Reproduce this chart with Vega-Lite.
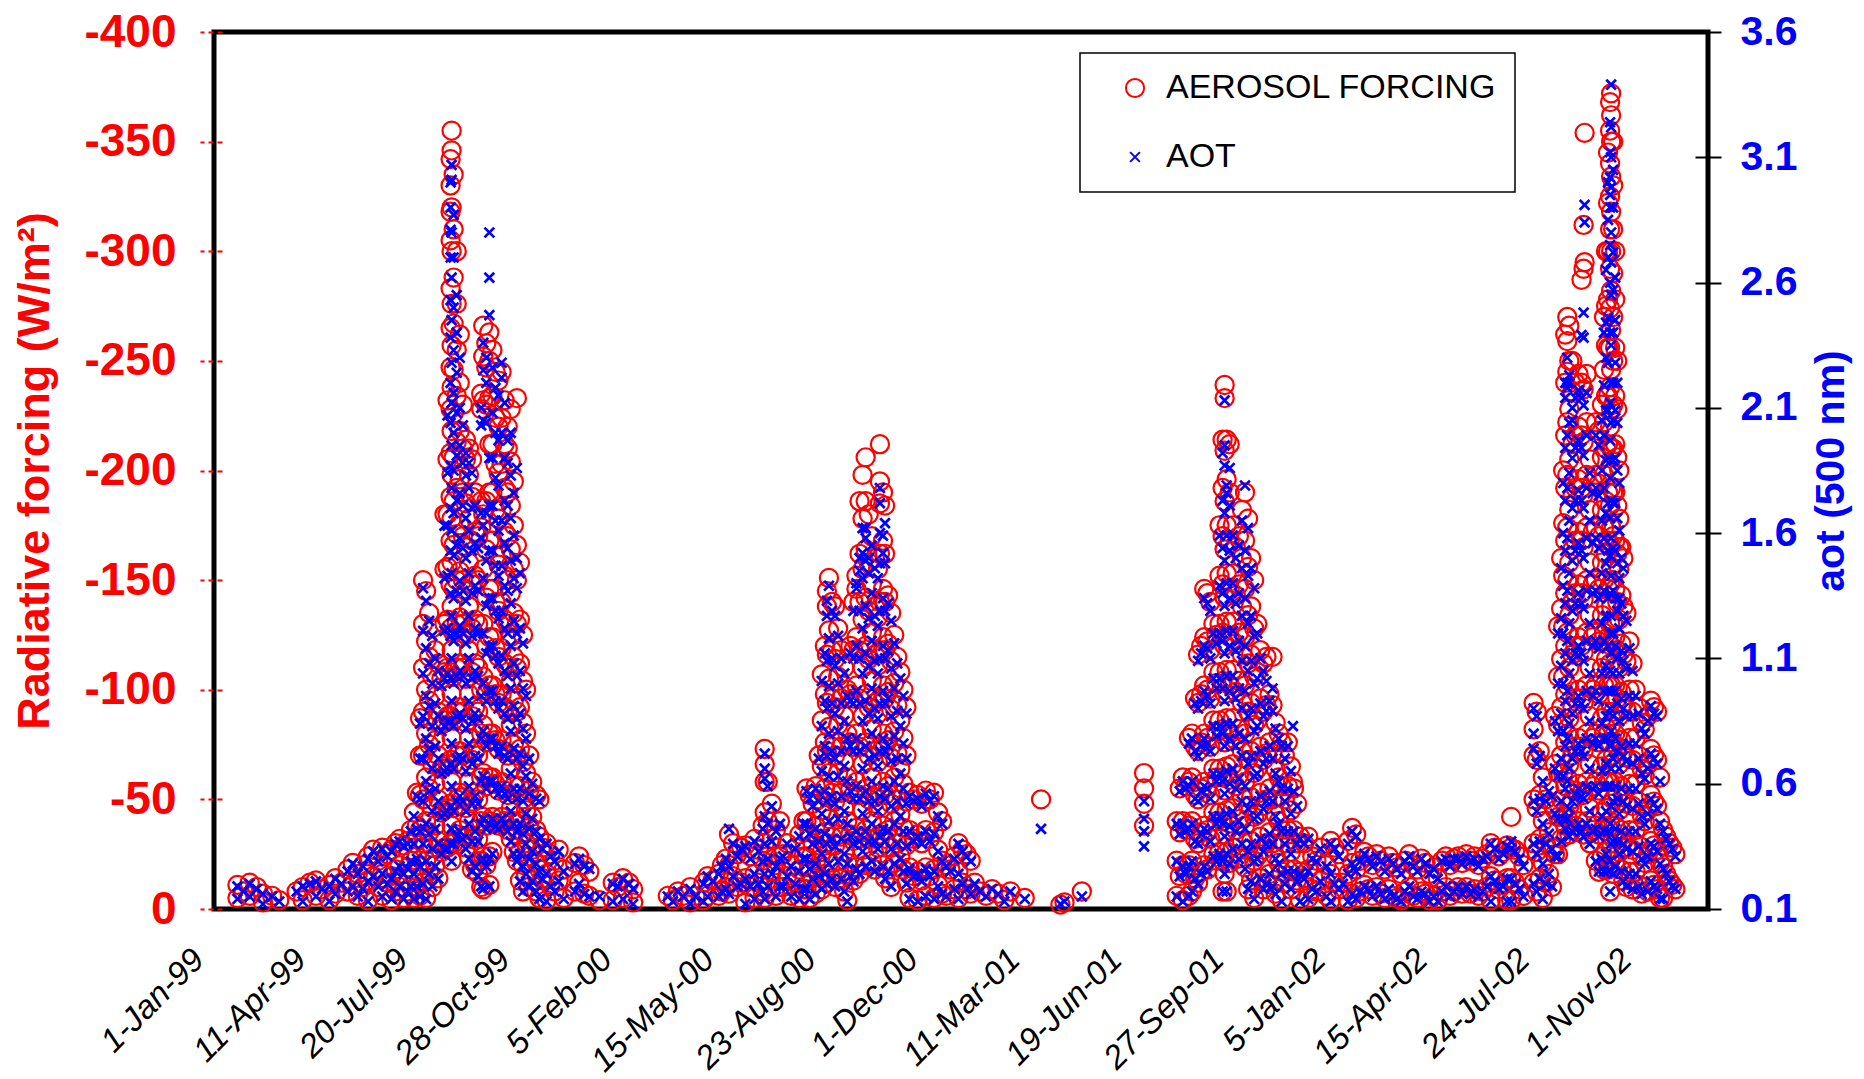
{
"$schema":"https://vega.github.io/schema/vega-lite/v6.json",
"width":1494,"height":877,
"autosize":{"type":"none"},
"padding":{"left":214,"top":32,"right":156,"bottom":170},
"background":"white",
"config":{
 "view":{"stroke":"black","strokeWidth":5},
 "legend":{"orient":"none","legendX":866,"legendY":21,"padding":18,"strokeColor":"black","strokeWidth":1.5,"fillColor":"white","labelFont":"Liberation Sans","labelFontSize":34,"labelColor":"black","labelLimit":600,"rowPadding":35,"symbolOffset":20,"labelOffset":14,"symbolStrokeWidth":2,"title":null}
},
"data":{"format":{"parse":{"d":"utc:'%Y%m%d'"}},"values":[
{"d":19990115,"f":-11,"a":0.19},{"d":19990115,"f":-5,"a":0.14},{"d":19990121,"f":-8,"a":0.17},{"d":19990127,"f":-12,"a":0.2},{"d":19990127,"f":-6,"a":0.15},{"d":19990203,"f":-10,"a":0.18},{"d":19990209,"f":-7,"a":0.16},{"d":19990209,"f":-3,"a":0.12},{"d":19990218,"f":-6,"a":0.15},{"d":19990225,"f":-4,"a":0.13},
{"d":19990314,"f":-8,"a":0.17},{"d":19990320,"f":-10,"a":0.19},{"d":19990320,"f":-4,"a":0.13},{"d":19990327,"f":-12,"a":0.2},{"d":19990402,"f":-13,"a":0.21},{"d":19990402,"f":-6,"a":0.15},{"d":19990408,"f":-9,"a":0.18},{"d":19990415,"f":-11,"a":0.19},{"d":19990415,"f":-4,"a":0.13},{"d":19990421,"f":-14,"a":0.22},{"d":19990421,"f":-7,"a":0.16},{"d":19990427,"f":-12,"a":0.2},
{"d":19990503,"f":-18,"a":0.25},{"d":19990503,"f":-8,"a":0.17},{"d":19990508,"f":-21,"a":0.28},{"d":19990508,"f":-11,"a":0.19},{"d":19990513,"f":-16,"a":0.24},{"d":19990513,"f":-6,"a":0.15},{"d":19990518,"f":-20,"a":0.27},{"d":19990518,"f":-10,"a":0.18},{"d":19990523,"f":-24,"a":0.3},{"d":19990523,"f":-13,"a":0.21},{"d":19990523,"f":-4,"a":0.13},{"d":19990528,"f":-27,"a":0.33},{"d":19990528,"f":-15,"a":0.23},
{"d":19990602,"f":-22,"a":0.29},{"d":19990602,"f":-10,"a":0.19},{"d":19990606,"f":-28,"a":0.34},{"d":19990606,"f":-16,"a":0.24},{"d":19990606,"f":-6,"a":0.15},{"d":19990611,"f":-25,"a":0.31},{"d":19990611,"f":-12,"a":0.2},{"d":19990615,"f":-27,"a":0.33},{"d":19990615,"f":-15,"a":0.22},{"d":19990615,"f":-4,"a":0.14},{"d":19990619,"f":-30,"a":0.36},{"d":19990619,"f":-18,"a":0.25},{"d":19990619,"f":-8,"a":0.17},{"d":19990623,"f":-32,"a":0.37},{"d":19990623,"f":-20,"a":0.27},{"d":19990623,"f":-10,"a":0.19},{"d":19990627,"f":-29,"a":0.35},{"d":19990627,"f":-16,"a":0.24},{"d":19990627,"f":-5,"a":0.14},
{"d":19990701,"f":-31,"a":0.36},{"d":19990701,"f":-19,"a":0.26},{"d":19990701,"f":-8,"a":0.17},{"d":19990704,"f":-36,"a":0.41},{"d":19990704,"f":-22,"a":0.29},{"d":19990704,"f":-10,"a":0.19},{"d":19990707,"f":-44,"a":0.47},{"d":19990707,"f":-30,"a":0.36},{"d":19990707,"f":-16,"a":0.24},{"d":19990707,"f":-5,"a":0.14},
{"d":19990710,"f":-53,"a":0.55},{"d":19990710,"f":-38,"a":0.42},{"d":19990710,"f":-24,"a":0.3},{"d":19990710,"f":-10,"a":0.19},
{"d":19990713,"f":-87,"a":0.84},{"d":19990713,"f":-70,"a":0.7},{"d":19990713,"f":-52,"a":0.54},{"d":19990713,"f":-36,"a":0.41},{"d":19990713,"f":-20,"a":0.27},{"d":19990713,"f":-6,"a":0.15},
{"d":19990716,"f":-150,"a":1.38},{"d":19990716,"f":-130,"a":1.21},{"d":19990716,"f":-110,"a":1.04},{"d":19990716,"f":-90,"a":0.87},{"d":19990716,"f":-70,"a":0.7},{"d":19990716,"f":-50,"a":0.53},{"d":19990716,"f":-30,"a":0.36},{"d":19990716,"f":-12,"a":0.2},
{"d":19990719,"f":-145,"a":1.33},{"d":19990719,"f":-122,"a":1.14},{"d":19990719,"f":-100,"a":0.95},{"d":19990719,"f":-80,"a":0.78},{"d":19990719,"f":-60,"a":0.61},{"d":19990719,"f":-40,"a":0.44},{"d":19990719,"f":-22,"a":0.29},{"d":19990719,"f":-5,"a":0.14},
{"d":19990722,"f":-135,"a":1.25},{"d":19990722,"f":-115,"a":1.08},{"d":19990722,"f":-95,"a":0.91},{"d":19990722,"f":-75,"a":0.74},{"d":19990722,"f":-55,"a":0.57},{"d":19990722,"f":-35,"a":0.4},{"d":19990722,"f":-17,"a":0.24},
{"d":19990725,"f":-128,"a":1.19},{"d":19990725,"f":-106,"a":1.0},{"d":19990725,"f":-86,"a":0.83},{"d":19990725,"f":-66,"a":0.66},{"d":19990725,"f":-46,"a":0.49},{"d":19990725,"f":-28,"a":0.34},{"d":19990725,"f":-10,"a":0.19},
{"d":19990728,"f":-118,"a":1.1},{"d":19990728,"f":-97,"a":0.92},{"d":19990728,"f":-77,"a":0.75},{"d":19990728,"f":-57,"a":0.58},{"d":19990728,"f":-38,"a":0.42},{"d":19990728,"f":-20,"a":0.27},
{"d":19990731,"f":-112,"a":1.05},{"d":19990731,"f":-90,"a":0.87},{"d":19990731,"f":-70,"a":0.7},{"d":19990731,"f":-50,"a":0.53},{"d":19990731,"f":-31,"a":0.36},{"d":19990731,"f":-14,"a":0.22},
{"d":19990803,"f":-105,"a":0.99},{"d":19990803,"f":-84,"a":0.81},{"d":19990803,"f":-64,"a":0.64},{"d":19990803,"f":-44,"a":0.47},{"d":19990803,"f":-26,"a":0.32},
{"d":19990806,"f":-180,"a":1.63},{"d":19990806,"f":-155,"a":1.42},{"d":19990806,"f":-130,"a":1.21},{"d":19990806,"f":-108,"a":1.02},{"d":19990806,"f":-86,"a":0.83},{"d":19990806,"f":-65,"a":0.65},{"d":19990806,"f":-45,"a":0.48},{"d":19990806,"f":-28,"a":0.34},
{"d":19990809,"f":-232,"a":2.07},{"d":19990809,"f":-205,"a":1.84},{"d":19990809,"f":-180,"a":1.63},{"d":19990809,"f":-156,"a":1.43},{"d":19990809,"f":-132,"a":1.22},{"d":19990809,"f":-110,"a":1.04},{"d":19990809,"f":-88,"a":0.85},{"d":19990809,"f":-66,"a":0.66},{"d":19990809,"f":-46,"a":0.49},{"d":19990809,"f":-28,"a":0.34},
{"d":19990812,"f":-342,"a":3.0},{"d":19990812,"f":-330,"a":2.9},{"d":19990812,"f":-318,"a":2.81},{"d":19990812,"f":-305,"a":2.7},{"d":19990812,"f":-283,"a":2.53},{"d":19990812,"f":-265,"a":2.38},{"d":19990812,"f":-247,"a":2.2},{"d":19990812,"f":-228,"a":2.04},{"d":19990812,"f":-208,"a":1.87},{"d":19990812,"f":-188,"a":1.7},{"d":19990812,"f":-168,"a":1.53},{"d":19990812,"f":-148,"a":1.36},{"d":19990812,"f":-128,"a":1.19},{"d":19990812,"f":-108,"a":1.02},{"d":19990812,"f":-88,"a":0.85},{"d":19990812,"f":-68,"a":0.68},{"d":19990812,"f":-48,"a":0.51},{"d":19990812,"f":-30,"a":0.36},
{"d":19990813,"f":-355,"a":3.07},{"d":19990813,"f":-346,"a":3.01},{"d":19990813,"f":-320,"a":2.8},{"d":19990813,"f":-300,"a":2.62},{"d":19990813,"f":-276,"a":2.45},{"d":19990813,"f":-257,"a":2.28},{"d":19990813,"f":-238,"a":2.12},{"d":19990813,"f":-218,"a":1.95},{"d":19990813,"f":-198,"a":1.78},{"d":19990813,"f":-178,"a":1.61},{"d":19990813,"f":-158,"a":1.44},{"d":19990813,"f":-138,"a":1.27},{"d":19990813,"f":-118,"a":1.1},{"d":19990813,"f":-98,"a":0.93},{"d":19990813,"f":-78,"a":0.76},{"d":19990813,"f":-58,"a":0.59},{"d":19990813,"f":-38,"a":0.42},{"d":19990813,"f":-22,"a":0.29},
{"d":19990815,"f":-335,"a":2.87},{"d":19990815,"f":-310,"a":2.7},{"d":19990815,"f":-288,"a":2.5},{"d":19990815,"f":-267,"a":2.33},{"d":19990815,"f":-246,"a":2.16},{"d":19990815,"f":-226,"a":2.0},{"d":19990815,"f":-206,"a":1.85},{"d":19990815,"f":-186,"a":1.68},{"d":19990815,"f":-166,"a":1.51},{"d":19990815,"f":-146,"a":1.34},{"d":19990815,"f":-126,"a":1.17},{"d":19990815,"f":-106,"a":1.0},{"d":19990815,"f":-86,"a":0.83},{"d":19990815,"f":-66,"a":0.66},{"d":19990815,"f":-46,"a":0.49},{"d":19990815,"f":-30,"a":0.36},
{"d":19990818,"f":-300,"a":2.55},{"d":19990818,"f":-276,"a":2.4},{"d":19990818,"f":-255,"a":2.24},{"d":19990818,"f":-234,"a":2.08},{"d":19990818,"f":-213,"a":1.91},{"d":19990818,"f":-192,"a":1.73},{"d":19990818,"f":-171,"a":1.55},{"d":19990818,"f":-150,"a":1.37},{"d":19990818,"f":-130,"a":1.2},{"d":19990818,"f":-110,"a":1.03},{"d":19990818,"f":-90,"a":0.87},{"d":19990818,"f":-70,"a":0.7},{"d":19990818,"f":-50,"a":0.53},{"d":19990818,"f":-34,"a":0.39},
{"d":19990821,"f":-262,"a":2.3},{"d":19990821,"f":-240,"a":2.1},{"d":19990821,"f":-218,"a":1.95},{"d":19990821,"f":-196,"a":1.76},{"d":19990821,"f":-175,"a":1.58},{"d":19990821,"f":-154,"a":1.41},{"d":19990821,"f":-133,"a":1.23},{"d":19990821,"f":-112,"a":1.05},{"d":19990821,"f":-92,"a":0.88},{"d":19990821,"f":-72,"a":0.71},{"d":19990821,"f":-53,"a":0.55},{"d":19990821,"f":-36,"a":0.41},
{"d":19990824,"f":-230,"a":2.03},{"d":19990824,"f":-210,"a":1.88},{"d":19990824,"f":-190,"a":1.71},{"d":19990824,"f":-170,"a":1.54},{"d":19990824,"f":-150,"a":1.37},{"d":19990824,"f":-130,"a":1.2},{"d":19990824,"f":-110,"a":1.03},{"d":19990824,"f":-90,"a":0.86},{"d":19990824,"f":-70,"a":0.7},{"d":19990824,"f":-51,"a":0.53},{"d":19990824,"f":-33,"a":0.38},
{"d":19990827,"f":-214,"a":1.92},{"d":19990827,"f":-205,"a":1.83},{"d":19990827,"f":-185,"a":1.66},{"d":19990827,"f":-165,"a":1.5},{"d":19990827,"f":-145,"a":1.33},{"d":19990827,"f":-125,"a":1.16},{"d":19990827,"f":-105,"a":1.0},{"d":19990827,"f":-85,"a":0.82},{"d":19990827,"f":-65,"a":0.65},{"d":19990827,"f":-46,"a":0.49},{"d":19990827,"f":-28,"a":0.34},
{"d":19990830,"f":-210,"a":1.88},{"d":19990830,"f":-198,"a":1.78},{"d":19990830,"f":-178,"a":1.61},{"d":19990830,"f":-158,"a":1.44},{"d":19990830,"f":-138,"a":1.27},{"d":19990830,"f":-118,"a":1.1},{"d":19990830,"f":-98,"a":0.93},{"d":19990830,"f":-78,"a":0.76},{"d":19990830,"f":-58,"a":0.59},{"d":19990830,"f":-40,"a":0.44},{"d":19990830,"f":-24,"a":0.3},
{"d":19990902,"f":-205,"a":1.84},{"d":19990902,"f":-188,"a":1.7},{"d":19990902,"f":-168,"a":1.53},{"d":19990902,"f":-148,"a":1.36},{"d":19990902,"f":-128,"a":1.19},{"d":19990902,"f":-108,"a":1.02},{"d":19990902,"f":-88,"a":0.85},{"d":19990902,"f":-68,"a":0.68},{"d":19990902,"f":-49,"a":0.52},{"d":19990902,"f":-32,"a":0.37},{"d":19990902,"f":-18,"a":0.25},
{"d":19990905,"f":-190,"a":1.71},{"d":19990905,"f":-172,"a":1.56},{"d":19990905,"f":-152,"a":1.39},{"d":19990905,"f":-132,"a":1.22},{"d":19990905,"f":-112,"a":1.05},{"d":19990905,"f":-92,"a":0.88},{"d":19990905,"f":-72,"a":0.71},{"d":19990905,"f":-53,"a":0.55},{"d":19990905,"f":-36,"a":0.41},{"d":19990905,"f":-20,"a":0.27},
{"d":19990908,"f":-170,"a":1.54},{"d":19990908,"f":-150,"a":1.37},{"d":19990908,"f":-130,"a":1.2},{"d":19990908,"f":-110,"a":1.03},{"d":19990908,"f":-90,"a":0.86},{"d":19990908,"f":-70,"a":0.7},{"d":19990908,"f":-50,"a":0.52},{"d":19990908,"f":-32,"a":0.37},{"d":19990908,"f":-16,"a":0.23},
{"d":19990911,"f":-235,"a":2.1},{"d":19990911,"f":-228,"a":2.03},{"d":19990911,"f":-186,"a":1.68},{"d":19990911,"f":-174,"a":1.58},{"d":19990911,"f":-100,"a":0.95},{"d":19990911,"f":-80,"a":0.78},{"d":19990911,"f":-60,"a":0.61},{"d":19990911,"f":-40,"a":0.44},{"d":19990911,"f":-22,"a":0.29},{"d":19990911,"f":-10,"a":0.19},
{"d":19990913,"f":-266,"a":2.36},{"d":19990913,"f":-252,"a":2.25},{"d":19990913,"f":-232,"a":2.05},{"d":19990913,"f":-180,"a":1.63},{"d":19990913,"f":-155,"a":1.42},{"d":19990913,"f":-130,"a":1.2},{"d":19990913,"f":-106,"a":1.0},{"d":19990913,"f":-84,"a":0.81},{"d":19990913,"f":-62,"a":0.63},{"d":19990913,"f":-42,"a":0.46},{"d":19990913,"f":-24,"a":0.3},{"d":19990913,"f":-9,"a":0.18},
{"d":19990916,"f":-258,"a":2.3},{"d":19990916,"f":-247,"a":2.2},{"d":19990916,"f":-230,"a":2.04},{"d":19990916,"f":-186,"a":1.68},{"d":19990916,"f":-164,"a":1.49},{"d":19990916,"f":-142,"a":1.31},{"d":19990916,"f":-120,"a":1.12},{"d":19990916,"f":-98,"a":0.93},{"d":19990916,"f":-76,"a":0.75},{"d":19990916,"f":-56,"a":0.58},{"d":19990916,"f":-38,"a":0.42},{"d":19990916,"f":-20,"a":0.27},
{"d":19990919,"f":-263,"a":2.8},{"d":19990919,"f":-250,"a":2.62},{"d":19990919,"f":-233,"a":2.47},{"d":19990919,"f":-212,"a":1.9},{"d":19990919,"f":-190,"a":1.71},{"d":19990919,"f":-168,"a":1.53},{"d":19990919,"f":-146,"a":1.34},{"d":19990919,"f":-124,"a":1.15},{"d":19990919,"f":-102,"a":0.97},{"d":19990919,"f":-80,"a":0.78},{"d":19990919,"f":-60,"a":0.61},{"d":19990919,"f":-40,"a":0.44},{"d":19990919,"f":-24,"a":0.3},{"d":19990919,"f":-11,"a":0.19},
{"d":19990922,"f":-255,"a":2.26},{"d":19990922,"f":-234,"a":2.08},{"d":19990922,"f":-212,"a":1.9},{"d":19990922,"f":-190,"a":1.71},{"d":19990922,"f":-168,"a":1.53},{"d":19990922,"f":-146,"a":1.34},{"d":19990922,"f":-124,"a":1.15},{"d":19990922,"f":-102,"a":0.97},{"d":19990922,"f":-80,"a":0.78},{"d":19990922,"f":-60,"a":0.61},{"d":19990922,"f":-42,"a":0.46},{"d":19990922,"f":-26,"a":0.32},
{"d":19990925,"f":-245,"a":2.18},{"d":19990925,"f":-224,"a":2.0},{"d":19990925,"f":-203,"a":1.82},{"d":19990925,"f":-182,"a":1.65},{"d":19990925,"f":-161,"a":1.47},{"d":19990925,"f":-140,"a":1.29},{"d":19990925,"f":-119,"a":1.11},{"d":19990925,"f":-98,"a":0.93},{"d":19990925,"f":-77,"a":0.75},{"d":19990925,"f":-57,"a":0.58},{"d":19990925,"f":-39,"a":0.43},
{"d":19990928,"f":-241,"a":2.15},{"d":19990928,"f":-220,"a":1.97},{"d":19990928,"f":-199,"a":1.79},{"d":19990928,"f":-178,"a":1.61},{"d":19990928,"f":-157,"a":1.43},{"d":19990928,"f":-136,"a":1.26},{"d":19990928,"f":-115,"a":1.08},{"d":19990928,"f":-94,"a":0.9},{"d":19990928,"f":-73,"a":0.72},{"d":19990928,"f":-54,"a":0.56},{"d":19990928,"f":-38,"a":0.42},
{"d":19991001,"f":-245,"a":2.28},{"d":19991001,"f":-224,"a":2.22},{"d":19991001,"f":-203,"a":2.0},{"d":19991001,"f":-182,"a":1.65},{"d":19991001,"f":-161,"a":1.47},{"d":19991001,"f":-140,"a":1.29},{"d":19991001,"f":-119,"a":1.11},{"d":19991001,"f":-98,"a":0.93},{"d":19991001,"f":-77,"a":0.75},{"d":19991001,"f":-58,"a":0.59},{"d":19991001,"f":-42,"a":0.46},
{"d":19991004,"f":-232,"a":2.12},{"d":19991004,"f":-212,"a":1.9},{"d":19991004,"f":-192,"a":1.73},{"d":19991004,"f":-172,"a":1.56},{"d":19991004,"f":-152,"a":1.39},{"d":19991004,"f":-132,"a":1.22},{"d":19991004,"f":-112,"a":1.05},{"d":19991004,"f":-92,"a":0.88},{"d":19991004,"f":-72,"a":0.71},{"d":19991004,"f":-54,"a":0.56},{"d":19991004,"f":-40,"a":0.44},
{"d":19991007,"f":-220,"a":1.97},{"d":19991007,"f":-210,"a":1.88},{"d":19991007,"f":-190,"a":1.71},{"d":19991007,"f":-170,"a":1.54},{"d":19991007,"f":-150,"a":1.37},{"d":19991007,"f":-130,"a":1.2},{"d":19991007,"f":-110,"a":1.03},{"d":19991007,"f":-90,"a":0.86},{"d":19991007,"f":-70,"a":0.7},{"d":19991007,"f":-52,"a":0.54},{"d":19991007,"f":-36,"a":0.41},
{"d":19991010,"f":-228,"a":2.0},{"d":19991010,"f":-204,"a":1.83},{"d":19991010,"f":-184,"a":1.66},{"d":19991010,"f":-164,"a":1.49},{"d":19991010,"f":-144,"a":1.32},{"d":19991010,"f":-124,"a":1.15},{"d":19991010,"f":-104,"a":0.98},{"d":19991010,"f":-84,"a":0.81},{"d":19991010,"f":-64,"a":0.64},{"d":19991010,"f":-46,"a":0.49},{"d":19991010,"f":-32,"a":0.37},
{"d":19991013,"f":-195,"a":1.76},{"d":19991013,"f":-175,"a":1.59},{"d":19991013,"f":-155,"a":1.42},{"d":19991013,"f":-135,"a":1.25},{"d":19991013,"f":-115,"a":1.08},{"d":19991013,"f":-95,"a":0.91},{"d":19991013,"f":-75,"a":0.74},{"d":19991013,"f":-56,"a":0.58},{"d":19991013,"f":-40,"a":0.44},{"d":19991013,"f":-26,"a":0.32},
{"d":19991016,"f":-233,"a":1.86},{"d":19991016,"f":-166,"a":1.5},{"d":19991016,"f":-150,"a":1.38},{"d":19991016,"f":-130,"a":1.2},{"d":19991016,"f":-110,"a":1.03},{"d":19991016,"f":-90,"a":0.86},{"d":19991016,"f":-70,"a":0.7},{"d":19991016,"f":-52,"a":0.54},{"d":19991016,"f":-36,"a":0.41},{"d":19991016,"f":-22,"a":0.29},
{"d":19991019,"f":-158,"a":1.44},{"d":19991019,"f":-132,"a":1.22},{"d":19991019,"f":-112,"a":1.05},{"d":19991019,"f":-92,"a":0.88},{"d":19991019,"f":-73,"a":0.72},{"d":19991019,"f":-56,"a":0.58},{"d":19991019,"f":-40,"a":0.44},{"d":19991019,"f":-26,"a":0.32},{"d":19991019,"f":-13,"a":0.21},
{"d":19991022,"f":-125,"a":1.16},{"d":19991022,"f":-104,"a":0.98},{"d":19991022,"f":-85,"a":0.82},{"d":19991022,"f":-67,"a":0.67},{"d":19991022,"f":-50,"a":0.53},{"d":19991022,"f":-35,"a":0.4},{"d":19991022,"f":-20,"a":0.27},{"d":19991022,"f":-8,"a":0.17},
{"d":19991025,"f":-100,"a":0.95},{"d":19991025,"f":-80,"a":0.78},{"d":19991025,"f":-62,"a":0.63},{"d":19991025,"f":-45,"a":0.48},{"d":19991025,"f":-30,"a":0.36},{"d":19991025,"f":-16,"a":0.24},
{"d":19991028,"f":-70,"a":0.7},{"d":19991028,"f":-54,"a":0.56},{"d":19991028,"f":-38,"a":0.42},{"d":19991028,"f":-24,"a":0.3},{"d":19991028,"f":-10,"a":0.19},
{"d":19991031,"f":-58,"a":0.6},{"d":19991031,"f":-42,"a":0.46},{"d":19991031,"f":-27,"a":0.33},{"d":19991031,"f":-13,"a":0.21},
{"d":19991104,"f":-52,"a":0.54},{"d":19991104,"f":-36,"a":0.41},{"d":19991104,"f":-21,"a":0.28},{"d":19991104,"f":-8,"a":0.17},
{"d":19991107,"f":-50,"a":0.53},{"d":19991107,"f":-33,"a":0.38},{"d":19991107,"f":-18,"a":0.25},{"d":19991107,"f":-5,"a":0.14},
{"d":19991110,"f":-28,"a":0.34},{"d":19991110,"f":-14,"a":0.22},{"d":19991114,"f":-30,"a":0.36},{"d":19991114,"f":-16,"a":0.24},{"d":19991114,"f":-4,"a":0.13},{"d":19991118,"f":-25,"a":0.31},{"d":19991118,"f":-11,"a":0.19},{"d":19991122,"f":-22,"a":0.29},{"d":19991122,"f":-8,"a":0.17},{"d":19991126,"f":-27,"a":0.33},{"d":19991126,"f":-13,"a":0.21},
{"d":19991201,"f":-18,"a":0.25},{"d":19991201,"f":-5,"a":0.14},{"d":19991212,"f":-21,"a":0.28},{"d":19991212,"f":-8,"a":0.17},{"d":19991216,"f":-24,"a":0.3},{"d":19991216,"f":-12,"a":0.2},{"d":19991221,"f":-20,"a":0.27},{"d":19991221,"f":-7,"a":0.16},{"d":19991226,"f":-17,"a":0.26},{"d":19991226,"f":-6,"a":0.15},
{"d":20000105,"f":-4,"a":0.15},{"d":20000118,"f":-12,"a":0.2},{"d":20000118,"f":-4,"a":0.13},{"d":20000123,"f":-10,"a":0.19},{"d":20000128,"f":-14,"a":0.22},{"d":20000128,"f":-5,"a":0.14},{"d":20000203,"f":-12,"a":0.2},{"d":20000207,"f":-9,"a":0.18},{"d":20000207,"f":-3,"a":0.12},
{"d":20000312,"f":-6,"a":0.15},{"d":20000317,"f":-4,"a":0.13},{"d":20000322,"f":-8,"a":0.17},{"d":20000327,"f":-6,"a":0.15},{"d":20000403,"f":-10,"a":0.18},{"d":20000403,"f":-3,"a":0.12},{"d":20000408,"f":-6,"a":0.15},{"d":20000416,"f":-12,"a":0.2},{"d":20000416,"f":-4,"a":0.13},{"d":20000420,"f":-15,"a":0.23},{"d":20000420,"f":-6,"a":0.15},{"d":20000425,"f":-13,"a":0.21},
{"d":20000501,"f":-16,"a":0.24},{"d":20000501,"f":-6,"a":0.15},{"d":20000504,"f":-20,"a":0.27},{"d":20000504,"f":-8,"a":0.17},{"d":20000508,"f":-23,"a":0.3},{"d":20000508,"f":-10,"a":0.18},{"d":20000511,"f":-34,"a":0.42},{"d":20000511,"f":-20,"a":0.27},{"d":20000511,"f":-7,"a":0.16},{"d":20000515,"f":-30,"a":0.36},{"d":20000515,"f":-15,"a":0.23},{"d":20000519,"f":-25,"a":0.31},{"d":20000519,"f":-10,"a":0.19},{"d":20000523,"f":-28,"a":0.34},{"d":20000523,"f":-12,"a":0.2},{"d":20000527,"f":-29,"a":0.35},{"d":20000527,"f":-14,"a":0.22},{"d":20000527,"f":-3,"a":0.12},
{"d":20000601,"f":-24,"a":0.3},{"d":20000601,"f":-10,"a":0.19},{"d":20000605,"f":-32,"a":0.37},{"d":20000605,"f":-16,"a":0.24},{"d":20000605,"f":-5,"a":0.14},{"d":20000609,"f":-27,"a":0.33},{"d":20000609,"f":-12,"a":0.2},{"d":20000613,"f":-38,"a":0.42},{"d":20000613,"f":-22,"a":0.29},{"d":20000613,"f":-8,"a":0.17},
{"d":20000615,"f":-73,"a":0.72},{"d":20000615,"f":-66,"a":0.66},{"d":20000615,"f":-58,"a":0.62},{"d":20000615,"f":-44,"a":0.47},{"d":20000615,"f":-30,"a":0.36},{"d":20000615,"f":-16,"a":0.24},{"d":20000615,"f":-5,"a":0.14},
{"d":20000618,"f":-58,"a":0.59},{"d":20000618,"f":-40,"a":0.44},{"d":20000618,"f":-24,"a":0.3},{"d":20000618,"f":-10,"a":0.19},{"d":20000622,"f":-48,"a":0.51},{"d":20000622,"f":-32,"a":0.37},{"d":20000622,"f":-17,"a":0.24},{"d":20000626,"f":-36,"a":0.41},{"d":20000626,"f":-20,"a":0.27},{"d":20000626,"f":-6,"a":0.15},{"d":20000630,"f":-40,"a":0.44},{"d":20000630,"f":-24,"a":0.3},{"d":20000630,"f":-10,"a":0.19},
{"d":20000703,"f":-25,"a":0.31},{"d":20000703,"f":-10,"a":0.19},{"d":20000707,"f":-30,"a":0.36},{"d":20000707,"f":-15,"a":0.23},{"d":20000711,"f":-20,"a":0.27},{"d":20000711,"f":-6,"a":0.15},{"d":20000715,"f":-28,"a":0.34},{"d":20000715,"f":-12,"a":0.2},{"d":20000719,"f":-34,"a":0.39},{"d":20000719,"f":-18,"a":0.25},{"d":20000719,"f":-5,"a":0.14},{"d":20000723,"f":-40,"a":0.44},{"d":20000723,"f":-24,"a":0.3},{"d":20000723,"f":-9,"a":0.18},
{"d":20000726,"f":-55,"a":0.57},{"d":20000726,"f":-40,"a":0.44},{"d":20000726,"f":-24,"a":0.3},{"d":20000726,"f":-9,"a":0.18},{"d":20000729,"f":-52,"a":0.54},{"d":20000729,"f":-35,"a":0.4},{"d":20000729,"f":-19,"a":0.26},{"d":20000729,"f":-5,"a":0.14},
{"d":20000801,"f":-48,"a":0.51},{"d":20000801,"f":-30,"a":0.36},{"d":20000801,"f":-14,"a":0.22},{"d":20000804,"f":-56,"a":0.58},{"d":20000804,"f":-38,"a":0.42},{"d":20000804,"f":-21,"a":0.28},{"d":20000804,"f":-7,"a":0.16},{"d":20000807,"f":-70,"a":0.7},{"d":20000807,"f":-50,"a":0.53},{"d":20000807,"f":-32,"a":0.37},{"d":20000807,"f":-15,"a":0.23},
{"d":20000810,"f":-107,"a":1.01},{"d":20000810,"f":-86,"a":0.83},{"d":20000810,"f":-65,"a":0.65},{"d":20000810,"f":-45,"a":0.48},{"d":20000810,"f":-26,"a":0.32},{"d":20000810,"f":-9,"a":0.18},
{"d":20000813,"f":-120,"a":1.12},{"d":20000813,"f":-98,"a":0.93},{"d":20000813,"f":-76,"a":0.75},{"d":20000813,"f":-55,"a":0.57},{"d":20000813,"f":-35,"a":0.4},{"d":20000813,"f":-16,"a":0.24},
{"d":20000815,"f":-145,"a":1.33},{"d":20000815,"f":-138,"a":1.27},{"d":20000815,"f":-116,"a":1.09},{"d":20000815,"f":-94,"a":0.9},{"d":20000815,"f":-72,"a":0.71},{"d":20000815,"f":-51,"a":0.53},{"d":20000815,"f":-30,"a":0.36},{"d":20000815,"f":-12,"a":0.2},
{"d":20000817,"f":-151,"a":1.39},{"d":20000817,"f":-127,"a":1.18},{"d":20000817,"f":-105,"a":0.99},{"d":20000817,"f":-83,"a":0.8},{"d":20000817,"f":-62,"a":0.63},{"d":20000817,"f":-41,"a":0.45},{"d":20000817,"f":-21,"a":0.28},
{"d":20000820,"f":-140,"a":1.29},{"d":20000820,"f":-118,"a":1.1},{"d":20000820,"f":-96,"a":0.92},{"d":20000820,"f":-74,"a":0.73},{"d":20000820,"f":-53,"a":0.55},{"d":20000820,"f":-33,"a":0.38},{"d":20000820,"f":-14,"a":0.22},
{"d":20000823,"f":-138,"a":1.27},{"d":20000823,"f":-114,"a":1.07},{"d":20000823,"f":-92,"a":0.88},{"d":20000823,"f":-70,"a":0.7},{"d":20000823,"f":-49,"a":0.52},{"d":20000823,"f":-29,"a":0.35},{"d":20000823,"f":-10,"a":0.19},
{"d":20000826,"f":-128,"a":1.19},{"d":20000826,"f":-106,"a":1.0},{"d":20000826,"f":-84,"a":0.81},{"d":20000826,"f":-62,"a":0.63},{"d":20000826,"f":-42,"a":0.46},{"d":20000826,"f":-22,"a":0.29},
{"d":20000829,"f":-118,"a":1.1},{"d":20000829,"f":-96,"a":0.92},{"d":20000829,"f":-74,"a":0.73},{"d":20000829,"f":-53,"a":0.55},{"d":20000829,"f":-33,"a":0.38},{"d":20000829,"f":-14,"a":0.22},
{"d":20000901,"f":-110,"a":1.04},{"d":20000901,"f":-88,"a":0.85},{"d":20000901,"f":-67,"a":0.67},{"d":20000901,"f":-46,"a":0.49},{"d":20000901,"f":-26,"a":0.32},{"d":20000901,"f":-8,"a":0.17},
{"d":20000904,"f":-100,"a":0.95},{"d":20000904,"f":-80,"a":0.78},{"d":20000904,"f":-60,"a":0.61},{"d":20000904,"f":-40,"a":0.44},{"d":20000904,"f":-21,"a":0.28},{"d":20000904,"f":-4,"a":0.13},
{"d":20000907,"f":-120,"a":1.12},{"d":20000907,"f":-98,"a":0.93},{"d":20000907,"f":-76,"a":0.75},{"d":20000907,"f":-55,"a":0.57},{"d":20000907,"f":-34,"a":0.39},{"d":20000907,"f":-15,"a":0.23},
{"d":20000910,"f":-140,"a":1.29},{"d":20000910,"f":-118,"a":1.1},{"d":20000910,"f":-96,"a":0.92},{"d":20000910,"f":-74,"a":0.73},{"d":20000910,"f":-52,"a":0.54},{"d":20000910,"f":-31,"a":0.36},{"d":20000910,"f":-13,"a":0.21},
{"d":20000913,"f":-152,"a":1.4},{"d":20000913,"f":-146,"a":1.38},{"d":20000913,"f":-124,"a":1.15},{"d":20000913,"f":-102,"a":0.97},{"d":20000913,"f":-80,"a":0.78},{"d":20000913,"f":-58,"a":0.59},{"d":20000913,"f":-37,"a":0.41},{"d":20000913,"f":-19,"a":0.26},
{"d":20000916,"f":-186,"a":1.5},{"d":20000916,"f":-162,"a":1.45},{"d":20000916,"f":-140,"a":1.29},{"d":20000916,"f":-118,"a":1.1},{"d":20000916,"f":-96,"a":0.92},{"d":20000916,"f":-74,"a":0.73},{"d":20000916,"f":-52,"a":0.54},{"d":20000916,"f":-32,"a":0.37},{"d":20000916,"f":-16,"a":0.24},
{"d":20000919,"f":-198,"a":1.62},{"d":20000919,"f":-178,"a":1.52},{"d":20000919,"f":-155,"a":1.42},{"d":20000919,"f":-132,"a":1.22},{"d":20000919,"f":-110,"a":1.04},{"d":20000919,"f":-88,"a":0.85},{"d":20000919,"f":-66,"a":0.66},{"d":20000919,"f":-45,"a":0.48},{"d":20000919,"f":-27,"a":0.33},
{"d":20000922,"f":-206,"a":1.62},{"d":20000922,"f":-186,"a":1.58},{"d":20000922,"f":-164,"a":1.49},{"d":20000922,"f":-142,"a":1.31},{"d":20000922,"f":-120,"a":1.12},{"d":20000922,"f":-98,"a":0.93},{"d":20000922,"f":-76,"a":0.75},{"d":20000922,"f":-55,"a":0.57},{"d":20000922,"f":-36,"a":0.41},{"d":20000922,"f":-20,"a":0.27},
{"d":20000925,"f":-180,"a":1.5},{"d":20000925,"f":-158,"a":1.44},{"d":20000925,"f":-136,"a":1.26},{"d":20000925,"f":-114,"a":1.07},{"d":20000925,"f":-92,"a":0.88},{"d":20000925,"f":-70,"a":0.7},{"d":20000925,"f":-50,"a":0.53},{"d":20000925,"f":-32,"a":0.37},
{"d":20000928,"f":-170,"a":1.55},{"d":20000928,"f":-148,"a":1.36},{"d":20000928,"f":-126,"a":1.17},{"d":20000928,"f":-104,"a":0.98},{"d":20000928,"f":-82,"a":0.8},{"d":20000928,"f":-60,"a":0.61},{"d":20000928,"f":-40,"a":0.44},{"d":20000928,"f":-22,"a":0.29},
{"d":20001001,"f":-160,"a":1.46},{"d":20001001,"f":-138,"a":1.27},{"d":20001001,"f":-116,"a":1.09},{"d":20001001,"f":-94,"a":0.9},{"d":20001001,"f":-72,"a":0.71},{"d":20001001,"f":-51,"a":0.53},{"d":20001001,"f":-32,"a":0.37},{"d":20001001,"f":-18,"a":0.25},
{"d":20001004,"f":-155,"a":1.42},{"d":20001004,"f":-133,"a":1.23},{"d":20001004,"f":-111,"a":1.04},{"d":20001004,"f":-89,"a":0.86},{"d":20001004,"f":-67,"a":0.67},{"d":20001004,"f":-46,"a":0.49},{"d":20001004,"f":-28,"a":0.34},
{"d":20001006,"f":-212,"a":1.78},{"d":20001006,"f":-195,"a":1.72},{"d":20001006,"f":-185,"a":1.6},{"d":20001006,"f":-162,"a":1.48},{"d":20001006,"f":-140,"a":1.29},{"d":20001006,"f":-118,"a":1.1},{"d":20001006,"f":-96,"a":0.92},{"d":20001006,"f":-74,"a":0.73},{"d":20001006,"f":-53,"a":0.55},{"d":20001006,"f":-34,"a":0.39},
{"d":20001009,"f":-190,"a":1.59},{"d":20001009,"f":-168,"a":1.52},{"d":20001009,"f":-146,"a":1.34},{"d":20001009,"f":-124,"a":1.15},{"d":20001009,"f":-102,"a":0.97},{"d":20001009,"f":-80,"a":0.78},{"d":20001009,"f":-58,"a":0.59},{"d":20001009,"f":-38,"a":0.42},{"d":20001009,"f":-20,"a":0.27},
{"d":20001011,"f":-184,"a":1.64},{"d":20001011,"f":-162,"a":1.48},{"d":20001011,"f":-140,"a":1.29},{"d":20001011,"f":-118,"a":1.1},{"d":20001011,"f":-96,"a":0.92},{"d":20001011,"f":-74,"a":0.73},{"d":20001011,"f":-52,"a":0.54},{"d":20001011,"f":-32,"a":0.37},{"d":20001011,"f":-14,"a":0.22},
{"d":20001014,"f":-143,"a":1.32},{"d":20001014,"f":-121,"a":1.13},{"d":20001014,"f":-99,"a":0.94},{"d":20001014,"f":-77,"a":0.75},{"d":20001014,"f":-56,"a":0.58},{"d":20001014,"f":-36,"a":0.41},{"d":20001014,"f":-18,"a":0.25},
{"d":20001017,"f":-135,"a":1.25},{"d":20001017,"f":-113,"a":1.06},{"d":20001017,"f":-91,"a":0.87},{"d":20001017,"f":-69,"a":0.69},{"d":20001017,"f":-48,"a":0.51},{"d":20001017,"f":-28,"a":0.34},{"d":20001017,"f":-10,"a":0.19},
{"d":20001020,"f":-125,"a":1.16},{"d":20001020,"f":-103,"a":0.98},{"d":20001020,"f":-81,"a":0.79},{"d":20001020,"f":-60,"a":0.61},{"d":20001020,"f":-40,"a":0.44},{"d":20001020,"f":-21,"a":0.28},
{"d":20001023,"f":-115,"a":1.08},{"d":20001023,"f":-93,"a":0.89},{"d":20001023,"f":-71,"a":0.7},{"d":20001023,"f":-50,"a":0.53},{"d":20001023,"f":-30,"a":0.36},
{"d":20001026,"f":-108,"a":1.02},{"d":20001026,"f":-86,"a":0.83},{"d":20001026,"f":-64,"a":0.64},{"d":20001026,"f":-43,"a":0.47},{"d":20001026,"f":-24,"a":0.3},
{"d":20001029,"f":-100,"a":0.95},{"d":20001029,"f":-78,"a":0.76},{"d":20001029,"f":-57,"a":0.58},{"d":20001029,"f":-37,"a":0.41},{"d":20001029,"f":-18,"a":0.25},
{"d":20001101,"f":-92,"a":0.88},{"d":20001101,"f":-70,"a":0.7},{"d":20001101,"f":-49,"a":0.52},{"d":20001101,"f":-29,"a":0.35},{"d":20001101,"f":-12,"a":0.2},
{"d":20001104,"f":-53,"a":0.55},{"d":20001104,"f":-36,"a":0.41},{"d":20001104,"f":-19,"a":0.26},{"d":20001104,"f":-5,"a":0.14},{"d":20001108,"f":-50,"a":0.53},{"d":20001108,"f":-32,"a":0.37},{"d":20001108,"f":-15,"a":0.23},{"d":20001112,"f":-52,"a":0.54},{"d":20001112,"f":-34,"a":0.39},{"d":20001112,"f":-17,"a":0.24},{"d":20001112,"f":-4,"a":0.13},{"d":20001116,"f":-48,"a":0.51},{"d":20001116,"f":-30,"a":0.36},{"d":20001116,"f":-13,"a":0.21},
{"d":20001120,"f":-54,"a":0.56},{"d":20001120,"f":-36,"a":0.41},{"d":20001120,"f":-19,"a":0.26},{"d":20001120,"f":-6,"a":0.15},{"d":20001124,"f":-50,"a":0.53},{"d":20001124,"f":-32,"a":0.37},{"d":20001124,"f":-15,"a":0.23},{"d":20001128,"f":-53,"a":0.55},{"d":20001128,"f":-35,"a":0.4},{"d":20001128,"f":-18,"a":0.25},{"d":20001128,"f":-5,"a":0.14},
{"d":20001202,"f":-44,"a":0.47},{"d":20001202,"f":-27,"a":0.33},{"d":20001202,"f":-11,"a":0.19},{"d":20001206,"f":-40,"a":0.44},{"d":20001206,"f":-22,"a":0.29},{"d":20001206,"f":-7,"a":0.16},{"d":20001210,"f":-20,"a":0.27},{"d":20001210,"f":-6,"a":0.15},{"d":20001214,"f":-18,"a":0.25},{"d":20001218,"f":-24,"a":0.3},{"d":20001218,"f":-9,"a":0.18},{"d":20001222,"f":-30,"a":0.36},{"d":20001222,"f":-17,"a":0.24},{"d":20001222,"f":-5,"a":0.14},{"d":20001226,"f":-27,"a":0.33},{"d":20001226,"f":-12,"a":0.2},{"d":20001230,"f":-25,"a":0.31},{"d":20001230,"f":-9,"a":0.18},
{"d":20010103,"f":-22,"a":0.29},{"d":20010103,"f":-7,"a":0.16},{"d":20010107,"f":-12,"a":0.2},{"d":20010112,"f":-8,"a":0.17},{"d":20010118,"f":-6,"a":0.15},{"d":20010124,"f":-9,"a":0.18},{"d":20010130,"f":-7,"a":0.16},{"d":20010205,"f":-4,"a":0.13},{"d":20010211,"f":-8,"a":0.17},{"d":20010225,"f":-5,"a":0.14},
{"d":20010313,"f":-50,"a":0.42},{"d":20010401,"f":-2,"a":0.12},{"d":20010405,"f":-3,"a":0.13},{"d":20010422,"f":-8,"a":0.15},
{"d":20010622,"f":-62,"a":0.53},{"d":20010622,"f":-55,"a":0.46},{"d":20010622,"f":-48,"a":0.41},{"d":20010622,"f":-38,"a":0.35},
{"d":20010724,"f":-40,"a":0.44},{"d":20010724,"f":-22,"a":0.29},{"d":20010724,"f":-6,"a":0.15},{"d":20010727,"f":-55,"a":0.57},{"d":20010727,"f":-35,"a":0.4},{"d":20010727,"f":-15,"a":0.23},{"d":20010730,"f":-60,"a":0.61},{"d":20010730,"f":-40,"a":0.44},{"d":20010730,"f":-20,"a":0.27},{"d":20010730,"f":-4,"a":0.13},
{"d":20010802,"f":-56,"a":0.58},{"d":20010802,"f":-36,"a":0.41},{"d":20010802,"f":-16,"a":0.24},{"d":20010805,"f":-78,"a":0.76},{"d":20010805,"f":-58,"a":0.59},{"d":20010805,"f":-38,"a":0.42},{"d":20010805,"f":-20,"a":0.27},{"d":20010805,"f":-6,"a":0.15},
{"d":20010808,"f":-80,"a":0.78},{"d":20010808,"f":-60,"a":0.61},{"d":20010808,"f":-40,"a":0.44},{"d":20010808,"f":-22,"a":0.29},{"d":20010808,"f":-8,"a":0.17},
{"d":20010811,"f":-96,"a":0.92},{"d":20010811,"f":-74,"a":0.73},{"d":20010811,"f":-52,"a":0.54},{"d":20010811,"f":-32,"a":0.37},{"d":20010811,"f":-14,"a":0.22},
{"d":20010814,"f":-116,"a":1.09},{"d":20010814,"f":-94,"a":0.9},{"d":20010814,"f":-72,"a":0.71},{"d":20010814,"f":-50,"a":0.53},{"d":20010814,"f":-30,"a":0.36},{"d":20010814,"f":-12,"a":0.2},
{"d":20010817,"f":-120,"a":1.12},{"d":20010817,"f":-98,"a":0.93},{"d":20010817,"f":-76,"a":0.75},{"d":20010817,"f":-55,"a":0.57},{"d":20010817,"f":-35,"a":0.4},{"d":20010817,"f":-17,"a":0.24},
{"d":20010820,"f":-146,"a":1.34},{"d":20010820,"f":-124,"a":1.15},{"d":20010820,"f":-102,"a":0.97},{"d":20010820,"f":-80,"a":0.78},{"d":20010820,"f":-58,"a":0.59},{"d":20010820,"f":-38,"a":0.42},{"d":20010820,"f":-20,"a":0.27},
{"d":20010823,"f":-144,"a":1.32},{"d":20010823,"f":-122,"a":1.14},{"d":20010823,"f":-100,"a":0.95},{"d":20010823,"f":-78,"a":0.76},{"d":20010823,"f":-56,"a":0.58},{"d":20010823,"f":-36,"a":0.41},{"d":20010823,"f":-18,"a":0.25},
{"d":20010826,"f":-140,"a":1.29},{"d":20010826,"f":-118,"a":1.1},{"d":20010826,"f":-96,"a":0.92},{"d":20010826,"f":-74,"a":0.73},{"d":20010826,"f":-52,"a":0.54},{"d":20010826,"f":-32,"a":0.37},
{"d":20010829,"f":-130,"a":1.2},{"d":20010829,"f":-108,"a":1.02},{"d":20010829,"f":-86,"a":0.83},{"d":20010829,"f":-64,"a":0.64},{"d":20010829,"f":-44,"a":0.47},{"d":20010829,"f":-25,"a":0.31},
{"d":20010901,"f":-125,"a":1.16},{"d":20010901,"f":-103,"a":0.98},{"d":20010901,"f":-81,"a":0.79},{"d":20010901,"f":-60,"a":0.61},{"d":20010901,"f":-40,"a":0.44},{"d":20010901,"f":-22,"a":0.29},
{"d":20010904,"f":-175,"a":1.59},{"d":20010904,"f":-152,"a":1.39},{"d":20010904,"f":-130,"a":1.2},{"d":20010904,"f":-108,"a":1.02},{"d":20010904,"f":-86,"a":0.83},{"d":20010904,"f":-64,"a":0.64},{"d":20010904,"f":-44,"a":0.47},{"d":20010904,"f":-26,"a":0.32},
{"d":20010907,"f":-214,"a":1.92},{"d":20010907,"f":-192,"a":1.73},{"d":20010907,"f":-170,"a":1.54},{"d":20010907,"f":-148,"a":1.36},{"d":20010907,"f":-126,"a":1.17},{"d":20010907,"f":-104,"a":0.98},{"d":20010907,"f":-82,"a":0.8},{"d":20010907,"f":-60,"a":0.61},{"d":20010907,"f":-40,"a":0.44},{"d":20010907,"f":-22,"a":0.29},{"d":20010907,"f":-8,"a":0.17},
{"d":20010909,"f":-239,"a":2.13},{"d":20010909,"f":-233,"a":1.95},{"d":20010909,"f":-209,"a":1.87},{"d":20010909,"f":-186,"a":1.68},{"d":20010909,"f":-164,"a":1.49},{"d":20010909,"f":-142,"a":1.31},{"d":20010909,"f":-120,"a":1.12},{"d":20010909,"f":-98,"a":0.93},{"d":20010909,"f":-76,"a":0.75},{"d":20010909,"f":-54,"a":0.56},{"d":20010909,"f":-34,"a":0.39},{"d":20010909,"f":-16,"a":0.24},
{"d":20010911,"f":-214,"a":1.79},{"d":20010911,"f":-196,"a":1.76},{"d":20010911,"f":-175,"a":1.59},{"d":20010911,"f":-153,"a":1.4},{"d":20010911,"f":-131,"a":1.21},{"d":20010911,"f":-109,"a":1.03},{"d":20010911,"f":-87,"a":0.84},{"d":20010911,"f":-65,"a":0.65},{"d":20010911,"f":-45,"a":0.48},{"d":20010911,"f":-26,"a":0.32},{"d":20010911,"f":-8,"a":0.17},
{"d":20010914,"f":-212,"a":1.86},{"d":20010914,"f":-190,"a":1.71},{"d":20010914,"f":-168,"a":1.53},{"d":20010914,"f":-146,"a":1.34},{"d":20010914,"f":-124,"a":1.15},{"d":20010914,"f":-102,"a":0.97},{"d":20010914,"f":-80,"a":0.78},{"d":20010914,"f":-59,"a":0.6},{"d":20010914,"f":-39,"a":0.43},{"d":20010914,"f":-21,"a":0.28},
{"d":20010917,"f":-175,"a":1.59},{"d":20010917,"f":-153,"a":1.4},{"d":20010917,"f":-131,"a":1.21},{"d":20010917,"f":-109,"a":1.03},{"d":20010917,"f":-87,"a":0.84},{"d":20010917,"f":-66,"a":0.66},{"d":20010917,"f":-46,"a":0.49},{"d":20010917,"f":-28,"a":0.34},
{"d":20010920,"f":-165,"a":1.5},{"d":20010920,"f":-143,"a":1.32},{"d":20010920,"f":-121,"a":1.13},{"d":20010920,"f":-99,"a":0.94},{"d":20010920,"f":-77,"a":0.75},{"d":20010920,"f":-56,"a":0.58},{"d":20010920,"f":-36,"a":0.41},
{"d":20010923,"f":-170,"a":1.55},{"d":20010923,"f":-148,"a":1.36},{"d":20010923,"f":-126,"a":1.17},{"d":20010923,"f":-104,"a":0.98},{"d":20010923,"f":-82,"a":0.8},{"d":20010923,"f":-61,"a":0.62},{"d":20010923,"f":-41,"a":0.45},{"d":20010923,"f":-23,"a":0.3},
{"d":20010926,"f":-182,"a":1.65},{"d":20010926,"f":-160,"a":1.46},{"d":20010926,"f":-138,"a":1.27},{"d":20010926,"f":-116,"a":1.09},{"d":20010926,"f":-94,"a":0.9},{"d":20010926,"f":-72,"a":0.71},{"d":20010926,"f":-51,"a":0.53},{"d":20010926,"f":-31,"a":0.36},
{"d":20010929,"f":-190,"a":1.79},{"d":20010929,"f":-168,"a":1.53},{"d":20010929,"f":-146,"a":1.34},{"d":20010929,"f":-124,"a":1.15},{"d":20010929,"f":-102,"a":0.97},{"d":20010929,"f":-80,"a":0.78},{"d":20010929,"f":-58,"a":0.59},{"d":20010929,"f":-38,"a":0.42},{"d":20010929,"f":-19,"a":0.26},
{"d":20011002,"f":-178,"a":1.62},{"d":20011002,"f":-156,"a":1.43},{"d":20011002,"f":-134,"a":1.24},{"d":20011002,"f":-112,"a":1.05},{"d":20011002,"f":-90,"a":0.87},{"d":20011002,"f":-68,"a":0.68},{"d":20011002,"f":-47,"a":0.5},{"d":20011002,"f":-27,"a":0.33},{"d":20011002,"f":-9,"a":0.18},
{"d":20011005,"f":-160,"a":1.46},{"d":20011005,"f":-138,"a":1.27},{"d":20011005,"f":-116,"a":1.09},{"d":20011005,"f":-94,"a":0.9},{"d":20011005,"f":-72,"a":0.71},{"d":20011005,"f":-51,"a":0.53},{"d":20011005,"f":-31,"a":0.36},{"d":20011005,"f":-13,"a":0.21},
{"d":20011008,"f":-150,"a":1.38},{"d":20011008,"f":-128,"a":1.19},{"d":20011008,"f":-106,"a":1.0},{"d":20011008,"f":-84,"a":0.81},{"d":20011008,"f":-62,"a":0.63},{"d":20011008,"f":-42,"a":0.46},{"d":20011008,"f":-22,"a":0.29},{"d":20011008,"f":-5,"a":0.14},
{"d":20011011,"f":-130,"a":1.2},{"d":20011011,"f":-108,"a":1.02},{"d":20011011,"f":-86,"a":0.83},{"d":20011011,"f":-64,"a":0.64},{"d":20011011,"f":-43,"a":0.47},{"d":20011011,"f":-24,"a":0.3},
{"d":20011014,"f":-118,"a":1.1},{"d":20011014,"f":-96,"a":0.92},{"d":20011014,"f":-74,"a":0.73},{"d":20011014,"f":-53,"a":0.55},{"d":20011014,"f":-33,"a":0.38},{"d":20011014,"f":-14,"a":0.22},
{"d":20011017,"f":-112,"a":1.05},{"d":20011017,"f":-90,"a":0.87},{"d":20011017,"f":-68,"a":0.68},{"d":20011017,"f":-47,"a":0.5},{"d":20011017,"f":-27,"a":0.33},{"d":20011017,"f":-9,"a":0.18},
{"d":20011020,"f":-115,"a":1.01},{"d":20011020,"f":-93,"a":0.89},{"d":20011020,"f":-71,"a":0.7},{"d":20011020,"f":-50,"a":0.53},{"d":20011020,"f":-30,"a":0.36},{"d":20011020,"f":-12,"a":0.2},
{"d":20011023,"f":-98,"a":0.93},{"d":20011023,"f":-76,"a":0.75},{"d":20011023,"f":-55,"a":0.57},{"d":20011023,"f":-35,"a":0.4},{"d":20011023,"f":-16,"a":0.24},
{"d":20011026,"f":-115,"a":0.98},{"d":20011026,"f":-93,"a":0.89},{"d":20011026,"f":-71,"a":0.7},{"d":20011026,"f":-50,"a":0.53},{"d":20011026,"f":-30,"a":0.36},{"d":20011026,"f":-11,"a":0.19},
{"d":20011029,"f":-85,"a":0.82},{"d":20011029,"f":-64,"a":0.64},{"d":20011029,"f":-43,"a":0.47},{"d":20011029,"f":-24,"a":0.3},{"d":20011029,"f":-7,"a":0.16},
{"d":20011101,"f":-80,"a":0.78},{"d":20011101,"f":-60,"a":0.61},{"d":20011101,"f":-40,"a":0.44},{"d":20011101,"f":-21,"a":0.28},
{"d":20011104,"f":-76,"a":0.75},{"d":20011104,"f":-56,"a":0.58},{"d":20011104,"f":-36,"a":0.41},{"d":20011104,"f":-17,"a":0.24},{"d":20011104,"f":-4,"a":0.13},
{"d":20011107,"f":-70,"a":0.7},{"d":20011107,"f":-50,"a":0.53},{"d":20011107,"f":-30,"a":0.36},{"d":20011107,"f":-12,"a":0.2},
{"d":20011110,"f":-76,"a":0.75},{"d":20011110,"f":-56,"a":0.58},{"d":20011110,"f":-36,"a":0.41},{"d":20011110,"f":-18,"a":0.25},
{"d":20011113,"f":-65,"a":0.65},{"d":20011113,"f":-45,"a":0.48},{"d":20011113,"f":-26,"a":0.32},{"d":20011113,"f":-9,"a":0.18},{"d":20011115,"f":-58,"a":0.83},
{"d":20011116,"f":-55,"a":0.57},{"d":20011116,"f":-36,"a":0.41},{"d":20011116,"f":-18,"a":0.25},{"d":20011119,"f":-48,"a":0.51},{"d":20011119,"f":-30,"a":0.36},{"d":20011119,"f":-13,"a":0.21},
{"d":20011122,"f":-33,"a":0.38},{"d":20011122,"f":-17,"a":0.24},{"d":20011122,"f":-4,"a":0.13},{"d":20011126,"f":-30,"a":0.36},{"d":20011126,"f":-14,"a":0.22},{"d":20011130,"f":-33,"a":0.38},{"d":20011130,"f":-18,"a":0.25},{"d":20011130,"f":-5,"a":0.14},
{"d":20011204,"f":-24,"a":0.3},{"d":20011204,"f":-9,"a":0.18},{"d":20011208,"f":-22,"a":0.29},{"d":20011208,"f":-8,"a":0.17},{"d":20011212,"f":-28,"a":0.34},{"d":20011212,"f":-13,"a":0.21},{"d":20011218,"f":-20,"a":0.27},{"d":20011218,"f":-6,"a":0.15},{"d":20011222,"f":-31,"a":0.36},{"d":20011222,"f":-16,"a":0.24},{"d":20011222,"f":-4,"a":0.13},{"d":20011226,"f":-28,"a":0.34},{"d":20011226,"f":-12,"a":0.2},{"d":20011230,"f":-25,"a":0.31},{"d":20011230,"f":-9,"a":0.18},
{"d":20020103,"f":-12,"a":0.2},{"d":20020108,"f":-31,"a":0.36},{"d":20020108,"f":-16,"a":0.24},{"d":20020108,"f":-4,"a":0.13},{"d":20020112,"f":-37,"a":0.41},{"d":20020112,"f":-21,"a":0.28},{"d":20020112,"f":-7,"a":0.16},{"d":20020116,"f":-34,"a":0.39},{"d":20020116,"f":-18,"a":0.25},{"d":20020116,"f":-5,"a":0.14},{"d":20020120,"f":-22,"a":0.29},{"d":20020120,"f":-8,"a":0.17},{"d":20020124,"f":-26,"a":0.32},{"d":20020124,"f":-11,"a":0.19},{"d":20020128,"f":-24,"a":0.3},{"d":20020128,"f":-9,"a":0.18},
{"d":20020201,"f":-20,"a":0.27},{"d":20020201,"f":-6,"a":0.15},{"d":20020205,"f":-25,"a":0.31},{"d":20020205,"f":-10,"a":0.19},{"d":20020209,"f":-22,"a":0.29},{"d":20020209,"f":-7,"a":0.16},{"d":20020213,"f":-18,"a":0.25},{"d":20020213,"f":-5,"a":0.14},{"d":20020217,"f":-24,"a":0.3},{"d":20020217,"f":-9,"a":0.18},{"d":20020221,"f":-21,"a":0.28},{"d":20020221,"f":-6,"a":0.15},{"d":20020225,"f":-19,"a":0.26},{"d":20020225,"f":-5,"a":0.14},
{"d":20020301,"f":-16,"a":0.24},{"d":20020301,"f":-4,"a":0.13},{"d":20020305,"f":-22,"a":0.29},{"d":20020305,"f":-8,"a":0.17},{"d":20020309,"f":-25,"a":0.31},{"d":20020309,"f":-10,"a":0.19},{"d":20020313,"f":-20,"a":0.27},{"d":20020313,"f":-6,"a":0.15},{"d":20020317,"f":-18,"a":0.25},{"d":20020317,"f":-5,"a":0.14},{"d":20020321,"f":-23,"a":0.3},{"d":20020321,"f":-8,"a":0.17},{"d":20020325,"f":-21,"a":0.28},{"d":20020325,"f":-7,"a":0.16},{"d":20020329,"f":-16,"a":0.24},{"d":20020329,"f":-4,"a":0.13},
{"d":20020402,"f":-19,"a":0.26},{"d":20020402,"f":-6,"a":0.15},{"d":20020406,"f":-14,"a":0.22},{"d":20020406,"f":-4,"a":0.13},{"d":20020410,"f":-22,"a":0.29},{"d":20020410,"f":-8,"a":0.17},{"d":20020414,"f":-24,"a":0.3},{"d":20020414,"f":-10,"a":0.19},{"d":20020418,"f":-20,"a":0.27},{"d":20020418,"f":-6,"a":0.15},{"d":20020422,"f":-23,"a":0.3},{"d":20020422,"f":-8,"a":0.17},{"d":20020426,"f":-24,"a":0.3},{"d":20020426,"f":-10,"a":0.19},{"d":20020430,"f":-21,"a":0.28},{"d":20020430,"f":-7,"a":0.16},
{"d":20020504,"f":-25,"a":0.31},{"d":20020504,"f":-10,"a":0.19},{"d":20020508,"f":-22,"a":0.29},{"d":20020508,"f":-7,"a":0.16},{"d":20020512,"f":-24,"a":0.3},{"d":20020512,"f":-9,"a":0.18},{"d":20020516,"f":-20,"a":0.27},{"d":20020516,"f":-6,"a":0.15},{"d":20020520,"f":-23,"a":0.3},{"d":20020520,"f":-8,"a":0.17},{"d":20020524,"f":-25,"a":0.31},{"d":20020524,"f":-10,"a":0.19},{"d":20020528,"f":-30,"a":0.36},{"d":20020528,"f":-15,"a":0.23},{"d":20020528,"f":-4,"a":0.13},
{"d":20020601,"f":-28,"a":0.34},{"d":20020601,"f":-13,"a":0.21},{"d":20020605,"f":-24,"a":0.3},{"d":20020605,"f":-9,"a":0.18},{"d":20020609,"f":-26,"a":0.32},{"d":20020609,"f":-11,"a":0.19},{"d":20020613,"f":-29,"a":0.35},{"d":20020613,"f":-14,"a":0.22},{"d":20020613,"f":-4,"a":0.13},{"d":20020617,"f":-42,"a":0.37},{"d":20020617,"f":-28,"a":0.34},{"d":20020617,"f":-14,"a":0.22},{"d":20020617,"f":-4,"a":0.13},{"d":20020621,"f":-27,"a":0.33},{"d":20020621,"f":-12,"a":0.2},{"d":20020625,"f":-24,"a":0.3},{"d":20020625,"f":-9,"a":0.18},{"d":20020629,"f":-20,"a":0.27},{"d":20020629,"f":-6,"a":0.15},
{"d":20020709,"f":-94,"a":0.9},{"d":20020709,"f":-82,"a":0.8},{"d":20020709,"f":-70,"a":0.74},{"d":20020709,"f":-50,"a":0.53},{"d":20020709,"f":-30,"a":0.36},{"d":20020709,"f":-12,"a":0.2},
{"d":20020712,"f":-90,"a":0.87},{"d":20020712,"f":-68,"a":0.68},{"d":20020712,"f":-46,"a":0.49},{"d":20020712,"f":-26,"a":0.32},{"d":20020712,"f":-8,"a":0.17},
{"d":20020715,"f":-72,"a":0.71},{"d":20020715,"f":-52,"a":0.54},{"d":20020715,"f":-32,"a":0.37},{"d":20020715,"f":-14,"a":0.22},
{"d":20020718,"f":-60,"a":0.61},{"d":20020718,"f":-40,"a":0.44},{"d":20020718,"f":-21,"a":0.28},{"d":20020718,"f":-5,"a":0.14},
{"d":20020721,"f":-50,"a":0.53},{"d":20020721,"f":-30,"a":0.36},{"d":20020721,"f":-12,"a":0.2},{"d":20020724,"f":-55,"a":0.57},{"d":20020724,"f":-35,"a":0.4},{"d":20020724,"f":-16,"a":0.24},{"d":20020727,"f":-48,"a":0.55},{"d":20020727,"f":-28,"a":0.34},{"d":20020727,"f":-10,"a":0.19},
{"d":20020730,"f":-88,"a":0.85},{"d":20020730,"f":-66,"a":0.66},{"d":20020730,"f":-45,"a":0.48},{"d":20020730,"f":-25,"a":0.31},
{"d":20020802,"f":-129,"a":1.2},{"d":20020802,"f":-106,"a":1.0},{"d":20020802,"f":-84,"a":0.81},{"d":20020802,"f":-62,"a":0.63},{"d":20020802,"f":-42,"a":0.46},{"d":20020802,"f":-25,"a":0.31},
{"d":20020805,"f":-160,"a":1.46},{"d":20020805,"f":-137,"a":1.26},{"d":20020805,"f":-114,"a":1.07},{"d":20020805,"f":-92,"a":0.88},{"d":20020805,"f":-70,"a":0.7},{"d":20020805,"f":-50,"a":0.53},{"d":20020805,"f":-32,"a":0.37},
{"d":20020807,"f":-200,"a":1.8},{"d":20020807,"f":-176,"a":1.6},{"d":20020807,"f":-152,"a":1.39},{"d":20020807,"f":-129,"a":1.2},{"d":20020807,"f":-106,"a":1.0},{"d":20020807,"f":-84,"a":0.81},{"d":20020807,"f":-62,"a":0.63},{"d":20020807,"f":-42,"a":0.46},
{"d":20020809,"f":-262,"a":2.2},{"d":20020809,"f":-240,"a":2.14},{"d":20020809,"f":-216,"a":1.94},{"d":20020809,"f":-192,"a":1.73},{"d":20020809,"f":-168,"a":1.53},{"d":20020809,"f":-144,"a":1.32},{"d":20020809,"f":-120,"a":1.12},{"d":20020809,"f":-98,"a":0.93},{"d":20020809,"f":-76,"a":0.75},{"d":20020809,"f":-56,"a":0.58},{"d":20020809,"f":-38,"a":0.42},
{"d":20020811,"f":-270,"a":2.3},{"d":20020811,"f":-259,"a":2.2},{"d":20020811,"f":-245,"a":2.18},{"d":20020811,"f":-222,"a":1.99},{"d":20020811,"f":-198,"a":1.78},{"d":20020811,"f":-174,"a":1.58},{"d":20020811,"f":-150,"a":1.37},{"d":20020811,"f":-126,"a":1.17},{"d":20020811,"f":-102,"a":0.97},{"d":20020811,"f":-80,"a":0.78},{"d":20020811,"f":-60,"a":0.61},{"d":20020811,"f":-42,"a":0.46},
{"d":20020813,"f":-266,"a":2.23},{"d":20020813,"f":-250,"a":2.2},{"d":20020813,"f":-228,"a":2.04},{"d":20020813,"f":-205,"a":1.84},{"d":20020813,"f":-182,"a":1.65},{"d":20020813,"f":-158,"a":1.44},{"d":20020813,"f":-134,"a":1.24},{"d":20020813,"f":-110,"a":1.04},{"d":20020813,"f":-87,"a":0.84},{"d":20020813,"f":-66,"a":0.66},{"d":20020813,"f":-47,"a":0.5},{"d":20020813,"f":-34,"a":0.39},
{"d":20020816,"f":-250,"a":2.05},{"d":20020816,"f":-236,"a":2.1},{"d":20020816,"f":-212,"a":1.9},{"d":20020816,"f":-188,"a":1.7},{"d":20020816,"f":-164,"a":1.49},{"d":20020816,"f":-140,"a":1.29},{"d":20020816,"f":-116,"a":1.09},{"d":20020816,"f":-92,"a":0.88},{"d":20020816,"f":-70,"a":0.7},{"d":20020816,"f":-50,"a":0.53},{"d":20020816,"f":-36,"a":0.41},
{"d":20020819,"f":-240,"a":2.14},{"d":20020819,"f":-216,"a":1.94},{"d":20020819,"f":-192,"a":1.73},{"d":20020819,"f":-168,"a":1.53},{"d":20020819,"f":-144,"a":1.32},{"d":20020819,"f":-120,"a":1.12},{"d":20020819,"f":-96,"a":0.92},{"d":20020819,"f":-74,"a":0.73},{"d":20020819,"f":-54,"a":0.56},{"d":20020819,"f":-38,"a":0.42},
{"d":20020822,"f":-244,"a":2.17},{"d":20020822,"f":-220,"a":1.97},{"d":20020822,"f":-196,"a":1.77},{"d":20020822,"f":-172,"a":1.56},{"d":20020822,"f":-148,"a":1.36},{"d":20020822,"f":-124,"a":1.15},{"d":20020822,"f":-100,"a":0.95},{"d":20020822,"f":-78,"a":0.76},{"d":20020822,"f":-57,"a":0.58},{"d":20020822,"f":-40,"a":0.44},
{"d":20020825,"f":-287,"a":2.39},{"d":20020825,"f":-240,"a":2.14},{"d":20020825,"f":-216,"a":1.94},{"d":20020825,"f":-192,"a":1.73},{"d":20020825,"f":-168,"a":1.53},{"d":20020825,"f":-144,"a":1.32},{"d":20020825,"f":-120,"a":1.12},{"d":20020825,"f":-96,"a":0.92},{"d":20020825,"f":-74,"a":0.73},{"d":20020825,"f":-53,"a":0.55},{"d":20020825,"f":-36,"a":0.41},
{"d":20020827,"f":-312,"a":2.48},{"d":20020827,"f":-292,"a":2.38},{"d":20020827,"f":-237,"a":2.11},{"d":20020827,"f":-213,"a":1.91},{"d":20020827,"f":-189,"a":1.7},{"d":20020827,"f":-165,"a":1.5},{"d":20020827,"f":-141,"a":1.3},{"d":20020827,"f":-117,"a":1.09},{"d":20020827,"f":-94,"a":0.9},{"d":20020827,"f":-72,"a":0.71},{"d":20020827,"f":-52,"a":0.54},{"d":20020827,"f":-34,"a":0.39},
{"d":20020828,"f":-354,"a":2.91},{"d":20020828,"f":-295,"a":2.84},
{"d":20020830,"f":-244,"a":2.16},{"d":20020830,"f":-222,"a":1.99},{"d":20020830,"f":-198,"a":1.78},{"d":20020830,"f":-174,"a":1.58},{"d":20020830,"f":-150,"a":1.37},{"d":20020830,"f":-126,"a":1.17},{"d":20020830,"f":-102,"a":0.97},{"d":20020830,"f":-80,"a":0.78},{"d":20020830,"f":-58,"a":0.59},{"d":20020830,"f":-40,"a":0.44},
{"d":20020902,"f":-205,"a":1.84},{"d":20020902,"f":-182,"a":1.65},{"d":20020902,"f":-158,"a":1.44},{"d":20020902,"f":-134,"a":1.24},{"d":20020902,"f":-110,"a":1.04},{"d":20020902,"f":-88,"a":0.85},{"d":20020902,"f":-66,"a":0.66},{"d":20020902,"f":-46,"a":0.49},{"d":20020902,"f":-30,"a":0.36},
{"d":20020905,"f":-195,"a":1.76},{"d":20020905,"f":-172,"a":1.56},{"d":20020905,"f":-148,"a":1.36},{"d":20020905,"f":-124,"a":1.15},{"d":20020905,"f":-100,"a":0.95},{"d":20020905,"f":-78,"a":0.76},{"d":20020905,"f":-56,"a":0.58},{"d":20020905,"f":-36,"a":0.41},
{"d":20020908,"f":-222,"a":1.99},{"d":20020908,"f":-198,"a":1.78},{"d":20020908,"f":-174,"a":1.58},{"d":20020908,"f":-150,"a":1.37},{"d":20020908,"f":-126,"a":1.17},{"d":20020908,"f":-102,"a":0.97},{"d":20020908,"f":-80,"a":0.78},{"d":20020908,"f":-58,"a":0.59},{"d":20020908,"f":-38,"a":0.42},{"d":20020908,"f":-22,"a":0.29},
{"d":20020911,"f":-218,"a":1.95},{"d":20020911,"f":-194,"a":1.75},{"d":20020911,"f":-170,"a":1.54},{"d":20020911,"f":-146,"a":1.34},{"d":20020911,"f":-122,"a":1.14},{"d":20020911,"f":-98,"a":0.93},{"d":20020911,"f":-76,"a":0.75},{"d":20020911,"f":-54,"a":0.56},{"d":20020911,"f":-34,"a":0.39},{"d":20020911,"f":-17,"a":0.25},
{"d":20020914,"f":-230,"a":2.05},{"d":20020914,"f":-206,"a":1.85},{"d":20020914,"f":-182,"a":1.65},{"d":20020914,"f":-158,"a":1.44},{"d":20020914,"f":-134,"a":1.24},{"d":20020914,"f":-110,"a":1.04},{"d":20020914,"f":-87,"a":0.84},{"d":20020914,"f":-65,"a":0.65},{"d":20020914,"f":-44,"a":0.47},{"d":20020914,"f":-24,"a":0.3},
{"d":20020916,"f":-270,"a":2.4},{"d":20020916,"f":-246,"a":2.19},{"d":20020916,"f":-222,"a":1.99},{"d":20020916,"f":-198,"a":1.78},{"d":20020916,"f":-174,"a":1.58},{"d":20020916,"f":-150,"a":1.37},{"d":20020916,"f":-126,"a":1.17},{"d":20020916,"f":-102,"a":0.97},{"d":20020916,"f":-80,"a":0.78},{"d":20020916,"f":-58,"a":0.59},{"d":20020916,"f":-37,"a":0.41},{"d":20020916,"f":-18,"a":0.25},
{"d":20020918,"f":-300,"a":2.65},{"d":20020918,"f":-275,"a":2.44},{"d":20020918,"f":-257,"a":2.3},{"d":20020918,"f":-234,"a":2.09},{"d":20020918,"f":-210,"a":1.89},{"d":20020918,"f":-186,"a":1.68},{"d":20020918,"f":-162,"a":1.48},{"d":20020918,"f":-138,"a":1.27},{"d":20020918,"f":-114,"a":1.07},{"d":20020918,"f":-90,"a":0.87},{"d":20020918,"f":-68,"a":0.68},{"d":20020918,"f":-46,"a":0.49},{"d":20020918,"f":-26,"a":0.32},
{"d":20020920,"f":-345,"a":3.0},{"d":20020920,"f":-322,"a":2.85},{"d":20020920,"f":-300,"a":2.7},{"d":20020920,"f":-278,"a":2.46},{"d":20020920,"f":-256,"a":2.28},{"d":20020920,"f":-234,"a":2.09},{"d":20020920,"f":-212,"a":1.9},{"d":20020920,"f":-190,"a":1.72},{"d":20020920,"f":-168,"a":1.53},{"d":20020920,"f":-146,"a":1.34},{"d":20020920,"f":-124,"a":1.15},{"d":20020920,"f":-102,"a":0.97},{"d":20020920,"f":-80,"a":0.78},{"d":20020920,"f":-58,"a":0.59},{"d":20020920,"f":-37,"a":0.41},{"d":20020920,"f":-18,"a":0.25},
{"d":20020922,"f":-368,"a":3.24},{"d":20020922,"f":-355,"a":3.12},{"d":20020922,"f":-340,"a":3.02},{"d":20020922,"f":-325,"a":2.95},{"d":20020922,"f":-310,"a":2.9},{"d":20020922,"f":-292,"a":2.75},{"d":20020922,"f":-274,"a":2.6},{"d":20020922,"f":-256,"a":2.4},{"d":20020922,"f":-238,"a":2.12},{"d":20020922,"f":-220,"a":1.97},{"d":20020922,"f":-202,"a":1.82},{"d":20020922,"f":-184,"a":1.66},{"d":20020922,"f":-166,"a":1.51},{"d":20020922,"f":-148,"a":1.36},{"d":20020922,"f":-130,"a":1.2},{"d":20020922,"f":-112,"a":1.05},{"d":20020922,"f":-94,"a":0.9},{"d":20020922,"f":-76,"a":0.75},{"d":20020922,"f":-58,"a":0.59},{"d":20020922,"f":-40,"a":0.44},{"d":20020922,"f":-22,"a":0.29},{"d":20020922,"f":-8,"a":0.17},
{"d":20020923,"f":-372,"a":3.39},{"d":20020923,"f":-362,"a":3.22},{"d":20020923,"f":-350,"a":3.1},{"d":20020923,"f":-334,"a":2.98},{"d":20020923,"f":-318,"a":2.8},{"d":20020923,"f":-300,"a":2.68},{"d":20020923,"f":-282,"a":2.55},{"d":20020923,"f":-264,"a":2.35},{"d":20020923,"f":-246,"a":2.2},{"d":20020923,"f":-228,"a":2.04},{"d":20020923,"f":-210,"a":1.89},{"d":20020923,"f":-192,"a":1.73},{"d":20020923,"f":-174,"a":1.58},{"d":20020923,"f":-156,"a":1.43},{"d":20020923,"f":-138,"a":1.27},{"d":20020923,"f":-120,"a":1.12},{"d":20020923,"f":-102,"a":0.97},{"d":20020923,"f":-84,"a":0.81},{"d":20020923,"f":-66,"a":0.66},{"d":20020923,"f":-48,"a":0.51},{"d":20020923,"f":-30,"a":0.36},
{"d":20020925,"f":-350,"a":3.05},{"d":20020925,"f":-330,"a":2.9},{"d":20020925,"f":-310,"a":2.72},{"d":20020925,"f":-290,"a":2.57},{"d":20020925,"f":-270,"a":2.4},{"d":20020925,"f":-250,"a":2.2},{"d":20020925,"f":-230,"a":2.05},{"d":20020925,"f":-210,"a":1.89},{"d":20020925,"f":-190,"a":1.72},{"d":20020925,"f":-170,"a":1.54},{"d":20020925,"f":-150,"a":1.37},{"d":20020925,"f":-130,"a":1.2},{"d":20020925,"f":-110,"a":1.04},{"d":20020925,"f":-90,"a":0.87},{"d":20020925,"f":-70,"a":0.7},{"d":20020925,"f":-50,"a":0.53},{"d":20020925,"f":-32,"a":0.37},{"d":20020925,"f":-16,"a":0.24},
{"d":20020927,"f":-300,"a":2.62},{"d":20020927,"f":-278,"a":2.45},{"d":20020927,"f":-256,"a":2.28},{"d":20020927,"f":-234,"a":2.09},{"d":20020927,"f":-212,"a":1.9},{"d":20020927,"f":-190,"a":1.72},{"d":20020927,"f":-168,"a":1.53},{"d":20020927,"f":-146,"a":1.34},{"d":20020927,"f":-124,"a":1.15},{"d":20020927,"f":-102,"a":0.97},{"d":20020927,"f":-80,"a":0.78},{"d":20020927,"f":-58,"a":0.59},{"d":20020927,"f":-38,"a":0.42},{"d":20020927,"f":-20,"a":0.27},
{"d":20020929,"f":-250,"a":2.2},{"d":20020929,"f":-228,"a":2.04},{"d":20020929,"f":-206,"a":1.85},{"d":20020929,"f":-184,"a":1.66},{"d":20020929,"f":-162,"a":1.48},{"d":20020929,"f":-140,"a":1.29},{"d":20020929,"f":-118,"a":1.1},{"d":20020929,"f":-96,"a":0.92},{"d":20020929,"f":-74,"a":0.73},{"d":20020929,"f":-52,"a":0.54},{"d":20020929,"f":-32,"a":0.37},
{"d":20021001,"f":-200,"a":1.8},{"d":20021001,"f":-178,"a":1.61},{"d":20021001,"f":-165,"a":1.34},{"d":20021001,"f":-155,"a":1.42},{"d":20021001,"f":-132,"a":1.22},{"d":20021001,"f":-110,"a":1.04},{"d":20021001,"f":-88,"a":0.85},{"d":20021001,"f":-66,"a":0.66},{"d":20021001,"f":-45,"a":0.48},{"d":20021001,"f":-26,"a":0.32},
{"d":20021003,"f":-165,"a":1.5},{"d":20021003,"f":-143,"a":1.32},{"d":20021003,"f":-121,"a":1.13},{"d":20021003,"f":-99,"a":0.94},{"d":20021003,"f":-77,"a":0.75},{"d":20021003,"f":-56,"a":0.58},{"d":20021003,"f":-36,"a":0.41},{"d":20021003,"f":-18,"a":0.25},
{"d":20021005,"f":-160,"a":1.46},{"d":20021005,"f":-138,"a":1.27},{"d":20021005,"f":-116,"a":1.09},{"d":20021005,"f":-94,"a":0.9},{"d":20021005,"f":-72,"a":0.71},{"d":20021005,"f":-51,"a":0.53},{"d":20021005,"f":-31,"a":0.36},{"d":20021005,"f":-13,"a":0.21},
{"d":20021008,"f":-135,"a":1.25},{"d":20021008,"f":-113,"a":1.06},{"d":20021008,"f":-91,"a":0.87},{"d":20021008,"f":-69,"a":0.69},{"d":20021008,"f":-48,"a":0.51},{"d":20021008,"f":-28,"a":0.34},{"d":20021008,"f":-10,"a":0.19},
{"d":20021011,"f":-122,"a":1.14},{"d":20021011,"f":-100,"a":0.95},{"d":20021011,"f":-78,"a":0.76},{"d":20021011,"f":-57,"a":0.58},{"d":20021011,"f":-36,"a":0.41},{"d":20021011,"f":-17,"a":0.24},
{"d":20021014,"f":-112,"a":1.05},{"d":20021014,"f":-90,"a":0.87},{"d":20021014,"f":-68,"a":0.68},{"d":20021014,"f":-47,"a":0.5},{"d":20021014,"f":-27,"a":0.33},{"d":20021014,"f":-9,"a":0.18},
{"d":20021017,"f":-100,"a":0.95},{"d":20021017,"f":-78,"a":0.76},{"d":20021017,"f":-57,"a":0.58},{"d":20021017,"f":-36,"a":0.41},{"d":20021017,"f":-17,"a":0.24},
{"d":20021020,"f":-92,"a":0.88},{"d":20021020,"f":-70,"a":0.7},{"d":20021020,"f":-49,"a":0.52},{"d":20021020,"f":-29,"a":0.35},{"d":20021020,"f":-11,"a":0.19},
{"d":20021023,"f":-85,"a":0.82},{"d":20021023,"f":-64,"a":0.64},{"d":20021023,"f":-43,"a":0.47},{"d":20021023,"f":-24,"a":0.3},{"d":20021023,"f":-7,"a":0.16},
{"d":20021026,"f":-82,"a":0.8},{"d":20021026,"f":-61,"a":0.62},{"d":20021026,"f":-40,"a":0.44},{"d":20021026,"f":-21,"a":0.28},
{"d":20021029,"f":-88,"a":0.85},{"d":20021029,"f":-66,"a":0.66},{"d":20021029,"f":-45,"a":0.48},{"d":20021029,"f":-25,"a":0.31},{"d":20021029,"f":-8,"a":0.17},
{"d":20021101,"f":-95,"a":0.91},{"d":20021101,"f":-73,"a":0.72},{"d":20021101,"f":-52,"a":0.54},{"d":20021101,"f":-31,"a":0.36},{"d":20021101,"f":-13,"a":0.21},
{"d":20021104,"f":-92,"a":0.88},{"d":20021104,"f":-70,"a":0.7},{"d":20021104,"f":-49,"a":0.52},{"d":20021104,"f":-29,"a":0.35},{"d":20021104,"f":-11,"a":0.19},
{"d":20021107,"f":-90,"a":0.87},{"d":20021107,"f":-68,"a":0.68},{"d":20021107,"f":-47,"a":0.5},{"d":20021107,"f":-27,"a":0.33},{"d":20021107,"f":-9,"a":0.18},
{"d":20021110,"f":-60,"a":0.61},{"d":20021110,"f":-40,"a":0.44},{"d":20021110,"f":-21,"a":0.28},{"d":20021110,"f":-5,"a":0.14},
{"d":20021113,"f":-36,"a":0.41},{"d":20021113,"f":-19,"a":0.26},{"d":20021113,"f":-5,"a":0.14},{"d":20021116,"f":-33,"a":0.38},{"d":20021116,"f":-16,"a":0.24},{"d":20021119,"f":-30,"a":0.36},{"d":20021119,"f":-13,"a":0.21},{"d":20021122,"f":-28,"a":0.34},{"d":20021122,"f":-11,"a":0.19},{"d":20021125,"f":-25,"a":0.31},{"d":20021125,"f":-9,"a":0.18}
]},
"layer":[
{"mark":{"type":"point","filled":false,"strokeWidth":2.2,"opacity":1},
 "encoding":{
  "x":{"field":"d","type":"temporal","scale":{"type":"utc","domain":[{"year":1998,"month":12,"date":23,"utc":true},{"year":2002,"month":12,"date":27,"utc":true}]},
   "axis":{"values":[{"year":1999,"month":1,"date":1,"utc":true},{"year":1999,"month":4,"date":11,"utc":true},{"year":1999,"month":7,"date":20,"utc":true},{"year":1999,"month":10,"date":28,"utc":true},{"year":2000,"month":2,"date":5,"utc":true},{"year":2000,"month":5,"date":15,"utc":true},{"year":2000,"month":8,"date":23,"utc":true},{"year":2000,"month":12,"date":1,"utc":true},{"year":2001,"month":3,"date":11,"utc":true},{"year":2001,"month":6,"date":19,"utc":true},{"year":2001,"month":9,"date":27,"utc":true},{"year":2002,"month":1,"date":5,"utc":true},{"year":2002,"month":4,"date":15,"utc":true},{"year":2002,"month":7,"date":24,"utc":true},{"year":2002,"month":11,"date":1,"utc":true}],
    "format":"%-d-%b-%y","title":null,"grid":false,"domain":false,"ticks":false,"tickSize":0,"labelAngle":-45,"labelAlign":"right","labelBaseline":"top","labelPadding":34,"labelOffset":-36,"labelOverlap":false,"labelFlush":false,"labelBound":false,"labelLimit":500,
    "labelFont":"Liberation Sans","labelFontStyle":"italic","labelFontSize":33,"labelColor":"black"}},
  "y":{"field":"f","type":"quantitative","scale":{"domain":[0,-400],"nice":false,"zero":false},
   "axis":{"orient":"left","values":[-400,-350,-300,-250,-200,-150,-100,-50,0],"labelExpr":"'' + datum.value","grid":false,"domain":false,"offset":-8,"tickSize":22,"tickWidth":2,"tickColor":"#ff0000","tickDash":[5,4],"labelPadding":24,
    "labelFont":"Liberation Sans","labelFontWeight":"bold","labelFontSize":46,"labelColor":"#ff0000",
    "title":"Radiative forcing (W/m²)","titleFont":"Liberation Sans","titleFontWeight":"bold","titleFontSize":45,"titleColor":"#ff0000","titlePadding":26}},
  "color":{"datum":"AEROSOL FORCING","type":"nominal","scale":{"domain":["AEROSOL FORCING","AOT"],"range":["#ff0000","#0000ff"]}},
  "shape":{"datum":"AEROSOL FORCING","type":"nominal","scale":{"domain":["AEROSOL FORCING","AOT"],"range":["circle","M-1,-1L1,1M-1,1L1,-1"]}},
  "size":{"datum":"AEROSOL FORCING","type":"nominal","scale":{"domain":["AEROSOL FORCING","AOT"],"range":[330,95]}}
 }},
{"mark":{"type":"point","filled":false,"strokeWidth":2.7,"opacity":1},
 "encoding":{
  "x":{"field":"d","type":"temporal"},
  "y":{"field":"a","type":"quantitative","scale":{"domain":[0.1,3.6],"nice":false,"zero":false},
   "axis":{"orient":"right","values":[0.1,0.6,1.1,1.6,2.1,2.6,3.1,3.6],"format":".1f","grid":false,"domain":false,"offset":-13,"tickSize":26,"tickWidth":2,"tickColor":"black","labelPadding":19,
    "labelFont":"Liberation Sans","labelFontWeight":"bold","labelFontSize":41,"labelColor":"#0000ff",
    "title":"aot (500 nm)","titleFont":"Liberation Sans","titleFontWeight":"bold","titleFontSize":41,"titleColor":"#0000ff","titlePadding":15,"titleAngle":270,"titleBaseline":"top"}},
  "color":{"datum":"AOT","type":"nominal"},
  "shape":{"datum":"AOT","type":"nominal"},
  "size":{"datum":"AOT","type":"nominal"}
 }}
],
"resolve":{"scale":{"y":"independent"}}
}
